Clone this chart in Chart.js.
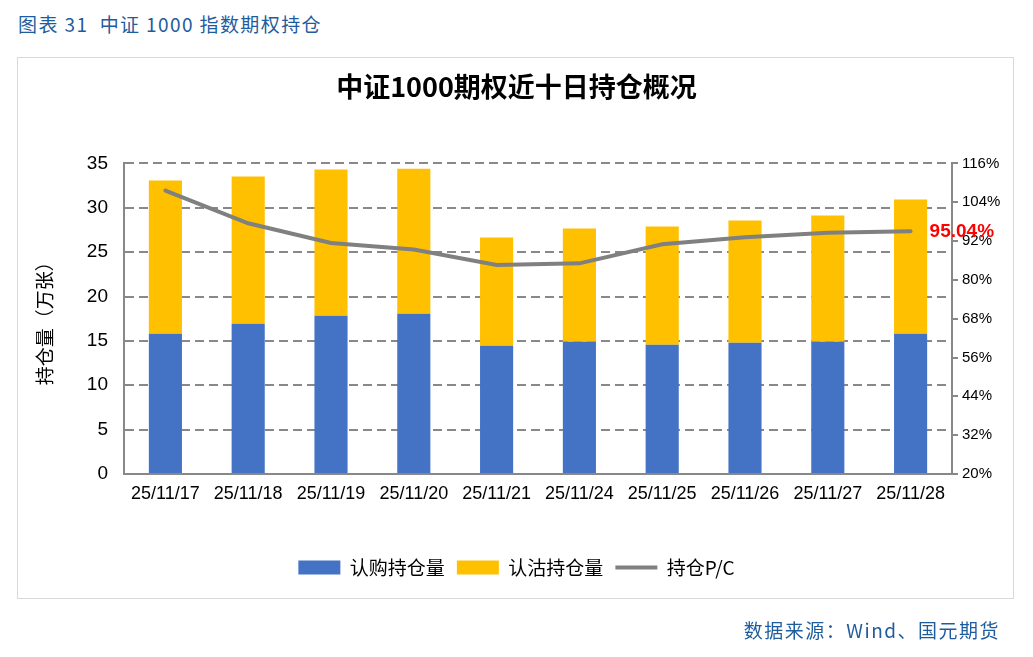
<!DOCTYPE html>
<html>
<head>
<meta charset="utf-8">
<script src="https://cdn.jsdelivr.net/npm/chart.js@4.4.1/dist/chart.umd.min.js"></script>
<style>
  html, body { margin: 0; padding: 0; background: #fff; }
  #wrap { position: relative; width: 1033px; height: 657px; overflow: hidden; }
  #hdr { position: absolute; left: 18px; top: 9px; font: 19px "Noto Sans CJK SC", sans-serif; letter-spacing: 1.4px; color: #1F5C9E; white-space: pre; line-height: 30px; }
  #ftr { position: absolute; right: 33px; top: 615px; font: 19px "Noto Sans CJK SC", sans-serif; letter-spacing: 1.5px; color: #1F5C9E; white-space: pre; line-height: 30px; }
  #box { position: absolute; left: 17px; top: 57px; width: 995px; height: 540px; border: 1px solid #D9D9D9; }
  #cv { position: absolute; left: 0; top: 0; }
</style>
</head>
<body>
<div id="wrap">
  <div id="hdr">图表 31  中证 1000 指数期权持仓</div>
  <div id="box"></div>
  <canvas id="cv" width="1033" height="657"></canvas>
  <div id="ftr">数据来源：Wind、国元期货</div>
</div>
<script>
const categories = ['25/11/17','25/11/18','25/11/19','25/11/20','25/11/21','25/11/24','25/11/25','25/11/26','25/11/27','25/11/28'];
const callOI = [15.80, 16.94, 17.84, 18.06, 14.45, 14.90, 14.56, 14.79, 14.90, 15.80];
const putOI  = [17.28, 16.59, 16.46, 16.34, 12.20, 12.76, 13.34, 13.77, 14.23, 15.14];
const pcRatio = [107.6, 97.5, 91.4, 89.4, 84.6, 85.1, 91.0, 93.2, 94.6, 95.04];
const seriesNames = ['认购持仓量', '认沽持仓量', '持仓P/C'];
const chartTitle = '中证1000期权近十日持仓概况';
const leftAxisTitle = '持仓量（万张）';

const lastLabel = {
  id: 'lastLabel',
  afterDatasetsDraw(chart) {
    const meta = chart.getDatasetMeta(2);
    const pt = meta.data[meta.data.length - 1];
    if (!pt) return;
    const ctx = chart.ctx;
    ctx.save();
    ctx.font = 'bold 19px "Liberation Sans", Arial, sans-serif';
    ctx.fillStyle = '#FF0000';
    ctx.textAlign = 'left';
    ctx.textBaseline = 'middle';
    ctx.fillText(pcRatio[pcRatio.length - 1].toFixed(2) + '%', pt.x + 19, pt.y + 1);
    ctx.restore();
  }
};

new Chart(document.getElementById('cv'), {
  type: 'bar',
  data: {
    labels: categories,
    datasets: [
      { label: seriesNames[0], data: callOI, backgroundColor: '#4472C4', yAxisID: 'y', order: 1,
        barPercentage: 0.4, categoryPercentage: 1.0, pointStyle: 'rect' },
      { label: seriesNames[1], data: putOI, backgroundColor: '#FFC000', yAxisID: 'y', order: 1,
        barPercentage: 0.4, categoryPercentage: 1.0, pointStyle: 'rect' },
      { type: 'line', label: seriesNames[2], data: pcRatio, yAxisID: 'y1', order: 0,
        borderColor: '#808080', backgroundColor: '#808080', borderWidth: 4, pointRadius: 0,
        pointHoverRadius: 0, tension: 0, pointStyle: 'line', borderCapStyle: 'round' }
    ]
  },
  options: {
    responsive: false,
    animation: false,
    devicePixelRatio: 1,
    layout: { padding: { left: 0, right: 0, top: 0, bottom: 70 } },
    plugins: {
      title: {
        display: true, text: chartTitle, color: '#000',
        font: { family: '"Noto Sans CJK SC", sans-serif', size: 27, weight: 'bold' },
        padding: { top: 71, bottom: 60 }
      },
      legend: {
        position: 'bottom',
        labels: {
          usePointStyle: true, pointStyleWidth: 42, boxHeight: 14,
          color: '#000', padding: 12,
          font: { family: '"Noto Sans CJK SC", sans-serif', size: 19 },
          sort: (a, b) => a.datasetIndex - b.datasetIndex
        }
      },
      tooltip: { enabled: false }
    },
    scales: {
      x: {
        stacked: true,
        grid: { display: false },
        border: { display: true, color: '#888888', width: 2 },
        ticks: { color: '#000', padding: 1, maxRotation: 0, autoSkip: false,
          font: { family: '"Liberation Sans", Arial, sans-serif', size: 18 } },
        afterFit(s) { s.height = 72; }
      },
      y: {
        position: 'left', stacked: true, min: 0, max: 35,
        ticks: { stepSize: 5, color: '#000', padding: 16,
          font: { family: '"Liberation Sans", Arial, sans-serif', size: 19 } },
        grid: { color: '#888888', lineWidth: 2, drawTicks: false },
        border: { display: true, color: '#888888', width: 2, dash: [9, 5] },
        title: { display: true, text: leftAxisTitle, color: '#000',
          font: { family: '"Noto Sans CJK SC", sans-serif', size: 19 },
          padding: { top: 33, bottom: 0 } },
        afterFit(s) { s.width = 124; }
      },
      y1: {
        position: 'right', stacked: false, min: 20, max: 116,
        ticks: { stepSize: 12, color: '#000', padding: 4, callback: v => v + '%',
          font: { family: '"Liberation Sans", Arial, sans-serif', size: 15 } },
        grid: { drawOnChartArea: false, drawTicks: true, tickLength: 6, color: '#888888', lineWidth: 2 },
        border: { display: true, color: '#888888', width: 2 },
        afterFit(s) { s.width = 81; }
      }
    }
  },
  plugins: [lastLabel]
});
</script>
</body>
</html>
